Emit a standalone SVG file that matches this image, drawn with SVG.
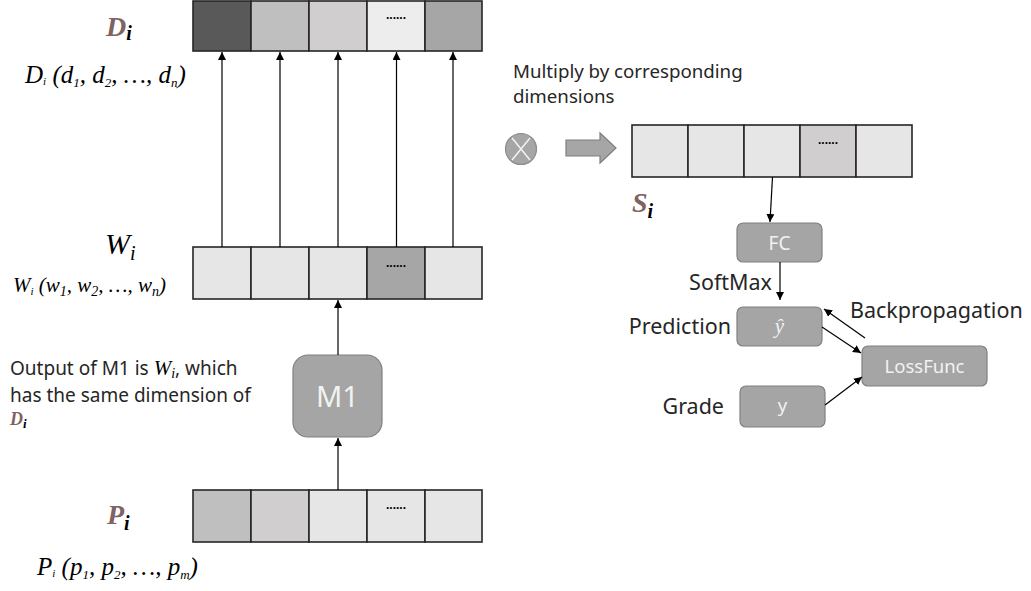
<svg xmlns="http://www.w3.org/2000/svg" width="1031" height="591" viewBox="0 0 1031 591">
<defs>
<marker id="ah" viewBox="0 0 10 10" refX="10" refY="5" markerWidth="8" markerHeight="8" markerUnits="userSpaceOnUse" orient="auto"><path d="M0,0 L10,5 L0,10 z" fill="#000"/></marker>
<style>
.cell{stroke:#262626;stroke-width:1.6}
.dots{font-family:"Liberation Sans",sans-serif;font-size:12px;fill:#000;text-anchor:middle;font-weight:bold}
.con{stroke:#000;stroke-width:1.2;fill:none;marker-end:url(#ah)}
.node{fill:#a5a5a5;stroke:#808080;stroke-width:1.2}
.nt{font-family:"Noto Sans","Liberation Sans",sans-serif;fill:#f2f2f2;text-anchor:middle}
.lbl{font-family:"Noto Sans","Liberation Sans",sans-serif;fill:#262626}
.math{font-family:"Liberation Serif",serif;font-style:italic;fill:#000}
.bm{font-family:"Liberation Serif",serif;font-style:italic;font-weight:bold}
.br{fill:#7f6262}
</style>
</defs>
<rect width="1031" height="591" fill="#fff"/>

<g id="D-row">
<rect class="cell" x="193" y="1" width="58" height="50" fill="#595959"/>
<rect class="cell" x="251" y="1" width="58" height="50" fill="#bfbfbf"/>
<rect class="cell" x="309" y="1" width="58" height="50" fill="#d0cece"/>
<rect class="cell" x="367" y="1" width="58" height="50" fill="#ededed"/>
<rect class="cell" x="425" y="1" width="57" height="50" fill="#a6a6a6"/>
<text class="dots" x="396" y="19">......</text>
</g>

<g id="W-row">
<rect class="cell" x="193" y="247" width="58" height="52" fill="#e7e6e6"/>
<rect class="cell" x="251" y="247" width="58" height="52" fill="#e7e6e6"/>
<rect class="cell" x="309" y="247" width="58" height="52" fill="#e7e6e6"/>
<rect class="cell" x="367" y="247" width="58" height="52" fill="#a6a6a6"/>
<rect class="cell" x="425" y="247" width="57" height="52" fill="#e7e6e6"/>
<text class="dots" x="396" y="267">......</text>
</g>

<g id="P-row">
<rect class="cell" x="193" y="490" width="58" height="52" fill="#bfbfbf"/>
<rect class="cell" x="251" y="490" width="58" height="52" fill="#d0cece"/>
<rect class="cell" x="309" y="490" width="58" height="52" fill="#e7e6e6"/>
<rect class="cell" x="367" y="490" width="58" height="52" fill="#e7e6e6"/>
<rect class="cell" x="425" y="490" width="57" height="52" fill="#e7e6e6"/>
<text class="dots" x="396" y="509">......</text>
</g>

<g id="S-row">
<rect class="cell" x="632" y="125" width="56" height="52" fill="#e7e6e6"/>
<rect class="cell" x="688" y="125" width="56" height="52" fill="#e7e6e6"/>
<rect class="cell" x="744" y="125" width="56" height="52" fill="#e7e6e6"/>
<rect class="cell" x="800" y="125" width="56" height="52" fill="#d0cece"/>
<rect class="cell" x="856" y="125" width="56" height="52" fill="#e7e6e6"/>
<text class="dots" x="828" y="144">......</text>
</g>

<g id="M1">
<rect class="node" x="293" y="355" width="89" height="82" rx="15"/>
<text class="nt" x="337.5" y="407" font-size="29">M1</text>
</g>

<g id="FC">
<rect class="node" x="737" y="223" width="85" height="39" rx="6"/>
<text class="nt" x="779.5" y="249.5" font-size="19">FC</text>
</g>

<g id="yhat">
<rect class="node" x="737" y="307" width="85" height="39" rx="6"/>
<text class="math" x="779.5" y="333" font-size="21" text-anchor="middle" style="fill:#f2f2f2">ŷ</text>
</g>

<g id="LossFunc">
<rect class="node" x="862" y="346" width="125" height="40" rx="6"/>
<text class="nt" x="924.5" y="372.5" font-size="18.5">LossFunc</text>
</g>

<g id="y">
<rect class="node" x="740" y="386" width="85" height="41" rx="6"/>
<text class="nt" x="782.5" y="412" font-size="18.5">y</text>
</g>

<g id="multiply">
<circle cx="521" cy="149" r="15.5" fill="#a6a6a6" stroke="#8c8c8c" stroke-width="1.2"/>
<path d="M512,138 L530,160 M530,138 L512,160" stroke="#f2f2f2" stroke-width="1.5"/>
</g>

<g id="block-arrow">
<path d="M566,140 L600,140 L600,133 L616,148 L600,163 L600,156 L566,156 Z" fill="#a6a6a6" stroke="#7f7f7f" stroke-width="1.2"/>
</g>

<g id="connectors">
<line class="con" x1="222" y1="247" x2="222" y2="52"/>
<line class="con" x1="280" y1="247" x2="280" y2="52"/>
<line class="con" x1="338" y1="247" x2="338" y2="52"/>
<line class="con" x1="396.5" y1="247" x2="396.5" y2="52"/>
<line class="con" x1="453" y1="247" x2="453" y2="52"/>
<line class="con" x1="338" y1="355" x2="338" y2="300"/>
<line class="con" x1="338" y1="490" x2="338" y2="438"/>
<line class="con" x1="772.5" y1="177" x2="770" y2="222"/>
<line class="con" x1="780" y1="262" x2="780" y2="300"/>
<line class="con" x1="822" y1="327" x2="861" y2="353"/>
<line class="con" x1="865" y1="338" x2="824" y2="309"/>
<line class="con" x1="825" y1="405" x2="862" y2="377"/>
</g>

<g id="labels">
<text class="bm" font-size="28" x="106" y="36"><tspan class="br">D</tspan><tspan font-size="20" dy="4" fill="#000">i</tspan></text>
<text class="math" font-size="25" x="25" y="83">D<tspan font-size="11" dy="2">i</tspan><tspan dy="-2"> (d</tspan><tspan font-size="13" dy="4">1</tspan><tspan dy="-4">, d</tspan><tspan font-size="13" dy="4">2</tspan><tspan dy="-4">, …, d</tspan><tspan font-size="13" dy="4">n</tspan><tspan dy="-4">)</tspan></text>

<text class="math" font-size="30" x="105" y="254">W<tspan font-size="20" dy="6">i</tspan></text>
<text class="math" font-size="21" x="13" y="292">W<tspan font-size="11" dy="3">i</tspan><tspan dy="-3">  (w</tspan><tspan font-size="14" dy="4">1</tspan><tspan dy="-4">, w</tspan><tspan font-size="14" dy="4">2</tspan><tspan dy="-4">, …, w</tspan><tspan font-size="14" dy="4">n</tspan><tspan dy="-4">)</tspan></text>

<text class="lbl" font-size="19" x="10" y="375">Output of M1 is <tspan class="math" font-size="21">W</tspan><tspan class="math" font-size="14" dy="3">i</tspan><tspan dy="-3">, which</tspan></text>
<text class="lbl" font-size="19" x="10" y="402">has the same dimension of</text>
<text class="bm" font-size="18" x="10" y="425"><tspan class="br">D</tspan><tspan font-size="13" dy="3" fill="#000">i</tspan></text>

<text class="bm" font-size="28" x="107" y="524"><tspan class="br">P</tspan><tspan font-size="20" dy="6" fill="#000">i</tspan></text>
<text class="math" font-size="25" x="37" y="575">P<tspan font-size="11" dy="2">i</tspan><tspan dy="-2"> (p</tspan><tspan font-size="13" dy="4">1</tspan><tspan dy="-4">, p</tspan><tspan font-size="13" dy="4">2</tspan><tspan dy="-4">, …, p</tspan><tspan font-size="13" dy="4">m</tspan><tspan dy="-4">)</tspan></text>

<text class="bm" font-size="28" x="632" y="212"><tspan class="br">S</tspan><tspan font-size="20" dy="6" fill="#000">i</tspan></text>

<text class="lbl" font-size="18.7" x="513" y="78">Multiply by corresponding</text>
<text class="lbl" font-size="18.7" x="513" y="103">dimensions</text>

<text class="lbl" font-size="21.5" x="772" y="290" text-anchor="end">SoftMax</text>
<text class="lbl" font-size="21.5" x="731" y="334" text-anchor="end">Prediction</text>
<text class="lbl" font-size="21.5" x="850" y="318">Backpropagation</text>
<text class="lbl" font-size="21.5" x="724" y="414" text-anchor="end">Grade</text>
</g>
</svg>
